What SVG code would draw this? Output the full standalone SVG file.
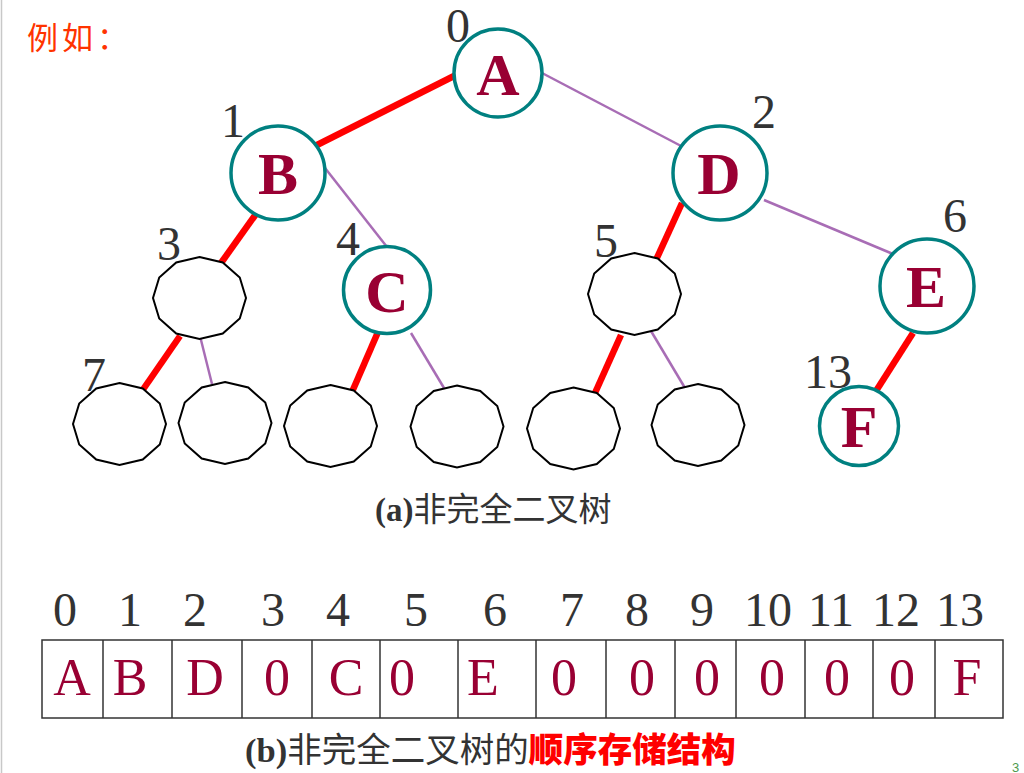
<svg xmlns="http://www.w3.org/2000/svg" xmlns:xlink="http://www.w3.org/1999/xlink" width="1024" height="773" viewBox="0 0 1024 773">
<style>
.red{stroke:#ff0000;stroke-width:6.5;stroke-linecap:butt}
.pur{stroke:#a86db5;stroke-width:2.5}
.circ{fill:#ffffff;stroke:#008080;stroke-width:3.5}
.poly{fill:#ffffff;stroke:#000000;stroke-width:2}
.let{font-family:"Liberation Serif","Times New Roman",serif;font-weight:bold;font-size:60px;fill:#990033;text-anchor:middle}
.num{font-family:"Liberation Serif","Times New Roman",serif;font-size:48px;fill:#333333;text-anchor:middle}
.cell{font-family:"Liberation Serif","Times New Roman",serif;font-size:52px;fill:#990033;text-anchor:middle}
.cap{font-family:"Noto Sans CJK SC",sans-serif;fill:#333333}
.capb{font-family:"Liberation Serif","Times New Roman",serif;font-weight:bold}
</style>
<defs>
<polygon id="dodec" class="poly" points="0,-41 23.25,-35.5 40.27,-20.5 46.5,0 40.27,20.5 23.25,35.5 0,41 -23.25,35.5 -40.27,20.5 -46.5,0 -40.27,-20.5 -23.25,-35.5"/>
</defs>
<rect x="0" y="0" width="1024" height="773" fill="#ffffff"/>
<line x1="1.5" y1="0" x2="1.5" y2="773" stroke="#c8c8c8" stroke-width="1.5"/>
<text x="27" y="49" font-family="Noto Sans CJK SC,sans-serif" font-size="31" letter-spacing="4" fill="#ff3300">例如：</text>

<g id="connectors">
<line class="red" x1="458" y1="74" x2="315" y2="146"/>
<line class="pur" x1="542" y1="73" x2="683" y2="147"/>
<line class="red" x1="256" y1="214" x2="221" y2="263"/>
<line class="pur" x1="325" y1="168" x2="387" y2="247"/>
<line class="red" x1="682" y1="203" x2="656" y2="260"/>
<line class="pur" x1="764" y1="200" x2="893" y2="254"/>
<line class="red" x1="180" y1="336" x2="142" y2="391"/>
<line class="pur" x1="200" y1="336" x2="212" y2="384"/>
<line class="red" x1="378" y1="332" x2="352" y2="392"/>
<line class="pur" x1="411" y1="333" x2="444" y2="388"/>
<line class="red" x1="621" y1="335" x2="595" y2="393"/>
<line class="pur" x1="651" y1="331" x2="685" y2="388"/>
<line class="red" x1="913" y1="333" x2="876" y2="391"/>
</g>

<g id="nodeA"><circle class="circ" cx="498" cy="73" r="44"/><text class="let" x="498" y="95">A</text><text class="num" x="458" y="42">0</text></g>
<g id="nodeB"><circle class="circ" cx="278" cy="173" r="47"/><text class="let" x="278" y="194">B</text><text class="num" x="233" y="137">1</text></g>
<g id="nodeD"><circle class="circ" cx="720" cy="173" r="47"/><text class="let" x="719" y="194">D</text><text class="num" x="764" y="128">2</text></g>
<g id="node3"><use xlink:href="#dodec" x="199.5" y="298"/><text class="num" x="169" y="260">3</text></g>
<g id="nodeC"><circle class="circ" cx="387" cy="290" r="43.5"/><text class="let" x="387" y="312">C</text><text class="num" x="348" y="255">4</text></g>
<g id="node5"><use xlink:href="#dodec" x="634.5" y="294"/><text class="num" x="606" y="257">5</text></g>
<g id="nodeE"><circle class="circ" cx="927" cy="286" r="47"/><text class="let" x="926" y="307">E</text><text class="num" x="955" y="232">6</text></g>
<g id="node7"><use xlink:href="#dodec" x="119.5" y="424"/><text class="num" x="94" y="391">7</text></g>
<g id="node8"><use xlink:href="#dodec" x="225" y="423"/></g>
<g id="node9"><use xlink:href="#dodec" x="330.5" y="426"/></g>
<g id="node10"><use xlink:href="#dodec" x="457" y="426.5"/></g>
<g id="node11"><use xlink:href="#dodec" x="573.5" y="428.5"/></g>
<g id="node12"><use xlink:href="#dodec" x="698" y="425"/></g>
<g id="nodeF"><circle class="circ" cx="859" cy="426" r="39.5"/><text class="let" x="859" y="447">F</text><text class="num" x="828" y="388">13</text></g>

<text class="cap" x="375" y="521" font-size="33"><tspan class="capb">(a)</tspan>非完全二叉树</text>

<g id="array">
<rect x="42" y="640" width="961" height="78" fill="none" stroke="#333333" stroke-width="1.5"/>
<g stroke="#333333" stroke-width="1.5">
<line x1="103" y1="640" x2="103" y2="718"/>
<line x1="172" y1="640" x2="172" y2="718"/>
<line x1="242" y1="640" x2="242" y2="718"/>
<line x1="312" y1="640" x2="312" y2="718"/>
<line x1="380" y1="640" x2="380" y2="718"/>
<line x1="458" y1="640" x2="458" y2="718"/>
<line x1="536" y1="640" x2="536" y2="718"/>
<line x1="606" y1="640" x2="606" y2="718"/>
<line x1="675" y1="640" x2="675" y2="718"/>
<line x1="736" y1="640" x2="736" y2="718"/>
<line x1="805" y1="640" x2="805" y2="718"/>
<line x1="873" y1="640" x2="873" y2="718"/>
<line x1="935" y1="640" x2="935" y2="718"/>
</g>
<text class="num" x="65" y="626">0</text>
<text class="num" x="130" y="626">1</text>
<text class="num" x="195" y="626">2</text>
<text class="num" x="273" y="626">3</text>
<text class="num" x="338" y="626">4</text>
<text class="num" x="416" y="626">5</text>
<text class="num" x="495" y="626">6</text>
<text class="num" x="572" y="626">7</text>
<text class="num" x="637" y="626">8</text>
<text class="num" x="702" y="626">9</text>
<text class="num" x="768" y="626">10</text>
<text class="num" x="831" y="626">11</text>
<text class="num" x="896" y="626">12</text>
<text class="num" x="960" y="626">13</text>
<text class="cell" x="72" y="695">A</text>
<text class="cell" x="130" y="695">B</text>
<text class="cell" x="205" y="695">D</text>
<text class="cell" x="277" y="695">0</text>
<text class="cell" x="346" y="695">C</text>
<text class="cell" x="402" y="695">0</text>
<text class="cell" x="483" y="695">E</text>
<text class="cell" x="564" y="695">0</text>
<text class="cell" x="642" y="695">0</text>
<text class="cell" x="707" y="695">0</text>
<text class="cell" x="772" y="695">0</text>
<text class="cell" x="837" y="695">0</text>
<text class="cell" x="902" y="695">0</text>
<text class="cell" x="967" y="695">F</text>
</g>

<text class="cap" x="245" y="762" font-size="34.5"><tspan class="capb">(b)</tspan>非完全二叉树的<tspan fill="#ff0000" font-weight="900">顺序存储结构</tspan></text>
<text x="1012" y="772" font-family="Liberation Sans,sans-serif" font-size="13" fill="#4e9a4e">3</text>
</svg>
